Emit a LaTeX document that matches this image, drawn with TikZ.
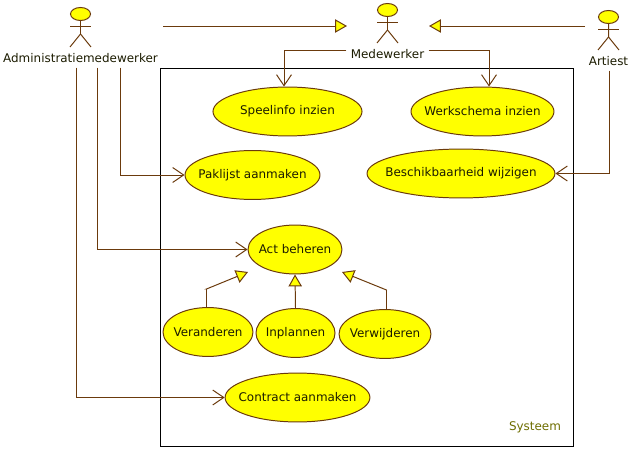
\documentclass[tikz,border=0pt]{standalone}
\usepackage{fontspec}
\setmainfont{DejaVu Sans}
\usetikzlibrary{arrows.meta,shapes.geometric}
\definecolor{umlline}{HTML}{6B3A0C}
\definecolor{umltext}{HTML}{1C1C00}
\definecolor{umlfill}{HTML}{FFFF00}
\definecolor{umlsys}{HTML}{6E6E00}
\newcommand{\uctext}[1]{\makebox[0pt]{#1}}
\begin{document}
\begin{tikzpicture}[scale=0.25]
\tikzstyle{every node}=[inner sep=0pt,text=umltext,font=\fontsize{8.5}{10}\selectfont]
\tikzstyle{usecase}=[draw=umlline,fill=umlfill,ellipse,line width=0.7pt,minimum height=34.8pt]
\tikzstyle{actorlabel}=[inner sep=3pt]
\tikzstyle{figure}=[draw=umlline,line width=0.7pt]
\tikzstyle{assoc}=[draw=umlline,line width=0.7pt,-{Straight Barb[length=7.8pt,width=10.6pt]}]
\tikzstyle{general}=[draw=umlline,line width=0.7pt,-{Triangle[length=8.5pt,width=9.5pt,fill=umlfill]}]
\useasboundingbox (0,0) rectangle (63.3,-46.1);
\fill [white] (0,0) rectangle (63.3,-46.1);
\draw [black,line width=0.7pt] (16.05,-6.8) rectangle (57.3,-44.6);
\node (systeem) [text=umlsys] at (53.5,-42.7) {Systeem};
\draw [figure,fill=umlfill] (8.05,-1.4) ellipse (1.0 and 0.65);
\draw [figure] (8.05,-2.05) -- (8.05,-3.4) -- (7,-4.7);
\draw [figure] (8.05,-3.4) -- (9.1,-4.7);
\draw [figure] (7,-2.6) -- (9.1,-2.6);
\node (admin) [actorlabel] at (8.05,-5.85) {Administratiemedewerker};
\draw [figure,fill=umlfill] (38.75,-1) ellipse (1.0 and 0.65);
\draw [figure] (38.75,-1.65) -- (38.75,-3) -- (37.7,-4.3);
\draw [figure] (38.75,-3) -- (39.8,-4.3);
\draw [figure] (37.7,-2.2) -- (39.8,-2.2);
\node (medewerker) [actorlabel] at (38.75,-5.45) {Medewerker};
\draw [figure,fill=umlfill] (60.85,-1.7) ellipse (1.0 and 0.65);
\draw [figure] (60.85,-2.35) -- (60.85,-3.7) -- (59.8,-5);
\draw [figure] (60.85,-3.7) -- (61.9,-5);
\draw [figure] (59.8,-2.9) -- (61.9,-2.9);
\node (artiest) [actorlabel] at (60.85,-6.15) {Artiest};
\node (speelinfo) [usecase,minimum width=106pt] at (28.75,-11.15) {\uctext{Speelinfo inzien}};
\node (werkschema) [usecase,minimum width=101.7pt] at (48.25,-11.15) {\uctext{Werkschema inzien}};
\node (paklijst) [usecase,minimum width=96pt] at (25.25,-17.5) {\uctext{Paklijst aanmaken}};
\node (beschikbaarheid) [usecase,minimum width=133.7pt] at (46.1,-17.35) {\uctext{Beschikbaarheid wijzigen}};
\node (act) [usecase,minimum width=66.8pt] at (29.5,-24.95) {\uctext{Act beheren}};
\node (veranderen) [usecase,minimum width=64pt] at (20.8,-33.2) {\uctext{Veranderen}};
\node (inplannen) [usecase,minimum width=56.2pt] at (29.55,-33.3) {\uctext{Inplannen}};
\node (verwijderen) [usecase,minimum width=65.4pt] at (38.5,-33.4) {\uctext{Verwijderen}};
\node (contract) [usecase,minimum width=103pt] at (29.75,-39.75) {\uctext{Contract aanmaken}};
\coordinate (adminright) at (16.3,-2.6);
\coordinate (medeleft) at (34.7,-2.6);
\coordinate (artiestleft) at (58.5,-2.6);
\coordinate (mederight) at (42.9,-2.6);
\coordinate (veranderenbend) at (20.65,-28.9);
\coordinate (actleft) at (24.8,-27.2);
\coordinate (verwijderenbend) at (38.65,-29);
\coordinate (actright) at (34.2,-27.2);
\draw [general] (adminright) -- (medeleft);
\draw [general] (artiestleft) -- (mederight);
\draw [assoc] ([yshift=0.45cm]medewerker.west) -| ([xshift=-0.35cm]speelinfo.north);
\draw [assoc] ([yshift=0.45cm]medewerker.east) -| ([xshift=0.65cm]werkschema.north);
\draw [assoc] ([xshift=4cm]admin.south) |- (paklijst.west);
\draw [assoc] ([xshift=1.7cm]admin.south) |- (act.west);
\draw [assoc] ([xshift=-0.4cm]admin.south) |- (contract.west);
\draw [assoc] ([xshift=0.1cm]artiest.south) |- (beschikbaarheid.east);
\draw [general] ([xshift=-0.15cm]veranderen.north) |- (veranderenbend) -- (actleft);
\draw [general] (inplannen.north) -- (act.south);
\draw [general] ([xshift=0.15cm]verwijderen.north) |- (verwijderenbend) -- (actright);
\end{tikzpicture}
\end{document}
